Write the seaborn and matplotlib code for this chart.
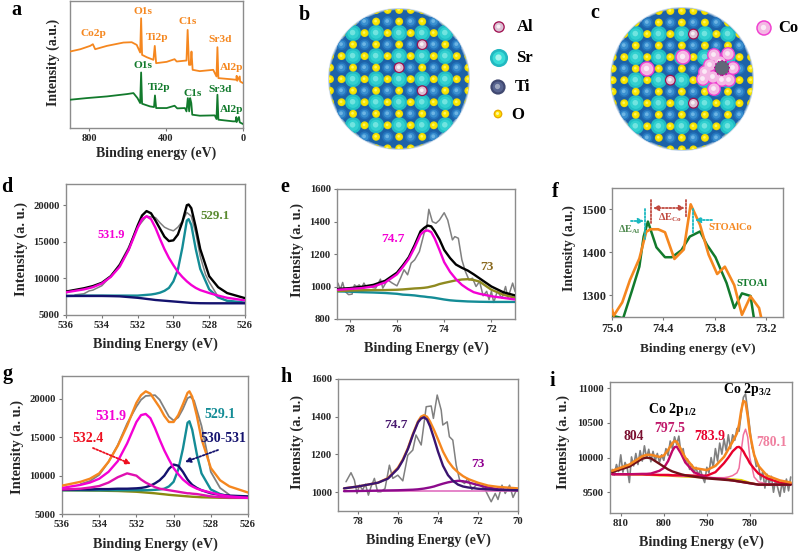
import matplotlib
matplotlib.use("Agg")
import matplotlib.pyplot as plt
from matplotlib.patches import Circle
import seaborn as sns

sns.set_style("ticks")
plt.rcParams["font.family"] = ["Liberation Serif", "DejaVu Serif"]
plt.rcParams["font.weight"] = "bold"
plt.rcParams["axes.labelweight"] = "bold"
plt.rcParams["mathtext.fontset"] = "custom"
plt.rcParams["mathtext.rm"] = "Liberation Serif:bold"
plt.rcParams["mathtext.bf"] = "Liberation Serif:bold"

ORANGE = "#f5871f"
GREEN = "#127a2c"
MAGENTA = "#f400d4"
GRAY = "#808080"
NAVY = "#14126e"
TEAL = "#148c96"

# panel a, survey spectra (arbitrary intensity)
a_orange_x = [900, 846, 795, 781, 769, 708, 622, 579, 553, 535, 530, 525, 501, 466, 459, 452, 397, 356, 345, 294, 288, 281, 273, 268, 262, 225, 155, 138, 133, 128, 69, 35, 33, 30, 17, 15, 0]
a_orange_y = [230, 237, 247, 252, 237, 247, 257, 258, 250, 227, 330, 220, 213, 205, 247, 195, 199, 207, 200, 203, 295, 190, 190, 230, 175, 171, 175, 155, 243, 150, 147, 145, 157, 142, 155, 140, 135]
a_green_x = [900, 812, 708, 604, 570, 549, 535, 530, 525, 484, 463, 458, 452, 397, 356, 342, 302, 294, 287, 280, 275, 269, 264, 225, 147, 138, 133, 128, 52, 38, 35, 33, 21, 17, 0]
a_green_y = [85, 90, 95, 102, 105, 90, 75, 167, 73, 65, 63, 98, 60, 60, 67, 59, 60, 50, 90, 50, 90, 75, 40, 37, 38, 27, 100, 25, 20, 20, 33, 18, 33, 17, 12]

# panel d, O 1s of STOAl
d_x = [536, 535, 534.5, 534, 533.5, 533, 532.5, 532, 531.75, 531.5, 531.25, 531, 530.75, 530.5, 530.25, 530, 529.75, 529.5, 529.25, 529.15, 529, 528.75, 528.5, 528, 527.5, 527, 526]
d_total = [8200, 8650, 8950, 9400, 10300, 11800, 14000, 17200, 18600, 19200, 18900, 17900, 16800, 15700, 15100, 15200, 16000, 17700, 20000, 20100, 19600, 17000, 14000, 10300, 8800, 8000, 7300]
d_531 = [8100, 8500, 8800, 9300, 10200, 11600, 13900, 16900, 18100, 18500, 18100, 16900, 15400, 14000, 12800, 11800, 10900, 10200, 9600, 9400, 9100, 8700, 8400, 8000, 7650, 7350, 7000]
d_529 = [7600, 7650, 7650, 7650, 7650, 7650, 7650, 7650, 7700, 7750, 7800, 7900, 8050, 8300, 8700, 9600, 11200, 14200, 17900, 18100, 17300, 14000, 11300, 8500, 7400, 6950, 6700]
d_base = [7600, 7600, 7600, 7600, 7580, 7550, 7450, 7350, 7280, 7200, 7130, 7050, 7000, 6950, 6900, 6850, 6800, 6750, 6700, 6680, 6650, 6630, 6610, 6600, 6600, 6600, 6600]
d_raw_x = [535.5, 535, 534.7, 534.5, 534, 533.5, 533, 532.5, 532, 531.5, 531, 530.75, 530.5, 530.25, 530, 529.75, 529.5, 529.25, 529, 528.75, 528.5, 528.2, 528, 527.5, 527, 526.5]
d_raw = [7750, 7900, 8300, 8400, 9000, 10300, 12000, 14300, 17000, 18500, 18300, 17600, 17000, 16700, 16500, 17000, 17800, 19000, 18500, 16200, 13000, 10500, 9500, 7500, 6900, 6800]

# panel e, Al 2p of STOAl
e_x = [78.5, 78, 77.5, 77, 76.5, 76, 75.75, 75.5, 75.25, 75, 74.85, 74.7, 74.55, 74.4, 74.2, 74, 73.75, 73.5, 73.25, 73, 72.75, 72.5, 72, 71.5, 71]
e_total = [985, 990, 998, 1010, 1035, 1085, 1130, 1180, 1255, 1340, 1360, 1375, 1370, 1340, 1290, 1225, 1175, 1135, 1115, 1098, 1075, 1050, 1000, 965, 945]
e_747 = [980, 985, 990, 1000, 1025, 1075, 1120, 1170, 1240, 1320, 1340, 1345, 1335, 1295, 1225, 1150, 1090, 1045, 1010, 985, 965, 955, 940, 930, 920]
e_73 = [972, 975, 977, 978, 978, 980, 982, 985, 988, 990, 992, 995, 1000, 1005, 1015, 1022, 1030, 1038, 1043, 1045, 1040, 1030, 980, 950, 930]
e_base = [970, 968, 965, 963, 960, 955, 950, 948, 945, 940, 938, 935, 933, 930, 925, 920, 915, 912, 910, 908, 907, 906, 905, 905, 905]
e_raw_x = [78.5, 78.4, 78.3, 78.2, 78.05, 77.9, 77.8, 77.7, 77.6, 77.5, 77.4, 77.3, 77.1, 76.9, 76.7, 76.6, 76.4, 76.2, 76, 75.85, 75.7, 75.55, 75.4, 75.25, 75.05, 74.85, 74.75, 74.65, 74.5, 74.35, 74.2, 74, 73.85, 73.65, 73.55, 73.4, 73.25, 73.1, 72.95, 72.8, 72.65, 72.5, 72.35, 72.2, 72.1, 72, 71.9, 71.75, 71.55, 71.4, 71.3, 71.1, 71]
e_raw = [1021, 980, 1025, 970, 950, 953, 1010, 1000, 1010, 990, 1021, 996, 996, 990, 1045, 990, 1041, 1021, 1004, 1051, 1103, 1072, 1144, 1164, 1215, 1328, 1358, 1475, 1399, 1389, 1409, 1454, 1409, 1287, 1307, 1297, 1164, 1092, 1041, 1051, 1000, 1031, 943, 970, 919, 970, 902, 970, 929, 1000, 929, 1021, 970]

# panel f, valence comparison
f_stoal_x = [75, 74.87, 74.77, 74.68, 74.63, 74.58, 74.48, 74.38, 74.3, 74.19, 74.09, 73.97, 73.89, 73.79, 73.66, 73.57, 73.48, 73.38, 73.34]
f_stoal = [1253, 1247, 1309, 1367, 1437, 1472, 1412, 1389, 1389, 1405, 1437, 1449, 1418, 1389, 1329, 1271, 1305, 1299, 1247]
f_stoalco_x = [75, 74.98, 74.88, 74.79, 74.68, 74.6, 74.55, 74.46, 74.38, 74.27, 74.16, 74.08, 73.97, 73.87, 73.77, 73.68, 73.57, 73.48, 73.38, 73.28, 73.25]
f_stoalco = [1268, 1253, 1284, 1336, 1386, 1448, 1454, 1454, 1447, 1385, 1407, 1512, 1464, 1395, 1350, 1367, 1324, 1255, 1298, 1271, 1244]

# panel g, O 1s of STOAlCo
g_x = d_x
g_total = [8700, 9200, 9600, 10300, 11800, 13900, 16500, 19500, 20500, 21000, 20700, 19800, 18900, 17800, 17000, 17000, 17900, 19300, 20800, 21000, 20300, 17800, 14800, 11000, 9400, 8600, 7800]
g_531 = [8400, 8800, 9100, 9600, 10500, 11900, 14200, 17000, 17900, 18050, 17500, 16200, 14700, 13300, 12100, 11000, 10200, 9500, 9000, 8800, 8600, 8300, 8100, 7800, 7500, 7300, 7100]
g_532 = [8200, 8300, 8450, 8650, 9100, 9800, 10300, 10000, 9500, 9100, 8800, 8500, 8300, 8200, 8100, 8000, 7900, 7800, 7700, 7700, 7650, 7600, 7500, 7300, 7200, 7150, 7100]
g_530 = [8150, 8200, 8200, 8250, 8250, 8300, 8300, 8350, 8400, 8500, 8700, 9000, 9400, 10000, 10900, 11450, 11300, 10500, 9500, 9200, 8800, 8400, 8100, 7700, 7500, 7400, 7300]
g_529 = [8100, 8100, 8100, 8100, 8100, 8100, 8100, 8100, 8100, 8100, 8120, 8150, 8200, 8300, 8600, 9200, 10800, 13500, 16900, 17100, 16000, 12800, 10300, 8200, 7600, 7300, 7200]
g_base = [8100, 8080, 8060, 8050, 8020, 8000, 7950, 7900, 7850, 7800, 7750, 7700, 7630, 7570, 7500, 7450, 7400, 7350, 7300, 7280, 7250, 7220, 7180, 7150, 7120, 7100, 7100]
g_raw_x = [535, 534.5, 534, 533.5, 533, 532.5, 532, 531.75, 531.5, 531, 530.75, 530.5, 530.25, 530, 529.75, 529.5, 529.25, 529.1, 528.9, 528.5, 528.2, 528, 527.5, 527]
g_raw = [8900, 9300, 10100, 11800, 14000, 16800, 19000, 19900, 20400, 20500, 19900, 18800, 17700, 17200, 17600, 18700, 20100, 20300, 19800, 16500, 13000, 10500, 8400, 7500]

# panel h, Al 2p of STOAlCo
h_x = [78.7, 78, 77.5, 77, 76.5, 76, 75.75, 75.5, 75.25, 75, 74.85, 74.7, 74.55, 74.4, 74.2, 74, 73.75, 73.5, 73.25, 73, 72.75, 72.5, 72, 71.5, 71, 70]
h_total = [1020, 1030, 1040, 1050, 1075, 1130, 1175, 1235, 1310, 1375, 1400, 1408, 1400, 1375, 1330, 1280, 1215, 1165, 1130, 1105, 1085, 1070, 1050, 1035, 1028, 1020]
h_747 = [1020, 1030, 1040, 1050, 1072, 1125, 1170, 1230, 1305, 1370, 1390, 1397, 1385, 1350, 1285, 1215, 1140, 1090, 1060, 1040, 1030, 1025, 1018, 1015, 1012, 1010]
h_73 = [1005, 1006, 1007, 1008, 1009, 1010, 1011, 1012, 1013, 1015, 1017, 1019, 1022, 1025, 1030, 1037, 1045, 1052, 1057, 1060, 1058, 1052, 1038, 1025, 1015, 1010]
h_base = [1007, 1007, 1007, 1007, 1007, 1007, 1007, 1007, 1007, 1007, 1007, 1007, 1007, 1007, 1007, 1007, 1007, 1007, 1007, 1007, 1007, 1007, 1007, 1007, 1007, 1007]
h_raw_x = [78.6, 78.35, 78.18, 78.05, 77.93, 77.77, 77.63, 77.48, 77.35, 77.18, 77.02, 76.85, 76.65, 76.43, 76.26, 76.01, 75.76, 75.51, 75.26, 75.1, 74.84, 74.59, 74.34, 74.23, 74.04, 73.84, 73.76, 73.54, 73.43, 73.26, 73.09, 72.92, 72.67, 72.51, 72.31, 72.01, 71.67, 71.34, 71.14, 71.0, 70.8, 70.64, 70.42, 70.25, 70.04]
h_raw = [1055, 1103, 1064, 993, 1037, 1011, 1042, 984, 1028, 1073, 1002, 1002, 1019, 1143, 1073, 1090, 1060, 1196, 1223, 1303, 1250, 1453, 1457, 1391, 1515, 1435, 1356, 1373, 1294, 1276, 1143, 1064, 1046, 1073, 1014, 1046, 1019, 949, 993, 961, 1037, 993, 1037, 972, 1019]

# panel i, Co 2p
i_x = [812, 808, 805, 804, 803, 801, 800, 799, 798, 797.5, 797, 796, 795, 793, 790, 788, 786, 785, 784, 783, 782.5, 782, 781.5, 781, 780.5, 780, 779, 778, 776, 773, 770.5]
i_total = [9810, 9900, 10020, 10040, 10040, 10010, 10030, 10110, 10210, 10240, 10230, 10120, 10000, 9850, 9820, 9880, 10010, 10120, 10230, 10350, 10480, 10680, 10820, 10800, 10600, 10350, 10040, 9880, 9740, 9670, 9640]
i_804 = [9790, 9870, 9985, 10000, 9990, 9910, 9870, 9830, 9800, 9790, 9780, 9760, 9745, 9725, 9700, 9690, 9680, 9675, 9670, 9660, 9655, 9650, 9645, 9640, 9635, 9630, 9620, 9610, 9610, 9610, 9610]
i_797 = [9760, 9760, 9765, 9765, 9770, 9810, 9850, 9950, 10100, 10150, 10160, 10060, 9930, 9790, 9710, 9700, 9690, 9680, 9670, 9660, 9655, 9650, 9645, 9640, 9635, 9630, 9620, 9610, 9610, 9610, 9610]
i_783 = [9760, 9760, 9760, 9755, 9755, 9750, 9750, 9750, 9745, 9745, 9745, 9745, 9745, 9740, 9740, 9790, 9920, 10000, 10090, 10150, 10155, 10130, 10090, 10030, 9980, 9920, 9840, 9770, 9700, 9640, 9620]
i_780 = [9760, 9760, 9755, 9755, 9750, 9745, 9745, 9740, 9740, 9735, 9735, 9730, 9730, 9725, 9715, 9710, 9710, 9720, 9740, 9780, 9850, 10100, 10330, 10410, 10300, 10000, 9720, 9650, 9620, 9610, 9610]
i_base = [9760, 9755, 9750, 9748, 9745, 9740, 9738, 9735, 9732, 9730, 9728, 9725, 9722, 9717, 9710, 9705, 9700, 9695, 9690, 9685, 9682, 9680, 9670, 9660, 9650, 9640, 9625, 9615, 9610, 9610, 9610]
i_raw_x = [812, 811.5, 811, 810.5, 810, 809.5, 809, 808.5, 808, 807.5,
           807, 806.5, 806, 805.5, 805, 804.5, 804, 803.5, 803, 802.5,
           802, 801.5, 801, 800.5, 800, 799.5, 799, 798.5, 798, 797.5,
           797, 796.5, 796, 795.5, 795, 794.5, 794, 793.5, 793, 792.5,
           792, 791.5, 791, 790.5, 790, 789.5, 789, 788.5, 788, 787.5,
           787, 786.5, 786, 785.5, 785, 784.5, 784, 783.5, 783, 782.5,
           782, 781.5, 781, 780.5, 780, 779.5, 779, 778.5, 778, 777.5,
           777, 776.5, 776, 775.5, 775, 774.5, 774, 773.5, 773, 772.5,
           772, 771.5, 771, 770.5]
i_raw = [9830, 9750, 9900, 9800, 10040, 9790, 9930, 9850, 9640, 10010,
         9880, 10060, 9900, 10100, 9950, 10170, 9990, 10120, 9940, 10090,
         9950, 10060, 9930, 10040, 9960, 10130, 10030, 10240, 10130, 10300,
         10190, 10310, 10060, 10130, 9930, 9980, 9830, 9900, 9780, 9860,
         9740, 9830, 9720, 9640, 9860, 9780, 10000, 9860, 10130, 9950,
         10210, 10050, 10270, 10100, 10330, 10130, 10330, 10250, 10420, 10380,
         10640, 10870, 10920, 10680, 10420, 10150, 10050, 9870, 9900, 9680,
         9800, 9560, 9760, 9620, 9730, 9500, 9680, 9560, 9440, 9650,
         9500, 9690, 9520, 9720]

# panels b and c, atoms of the SrTiO3 (100) slab, row by row
lattice_rows = ["....OOOOO....",
                "..OTOTOTOTO..",
                ".OSOSOSOSOSO.",
                ".TOTOTOTOTOT.",
                "OOSOSOSOSOSOO",
                "OTOTOTOTOTOTO",
                "OOSOSOSOSOSOO",
                "OTOTOTOTOTOTO",
                "OOSOSOSOSOSOO",
                ".TOTOTOTOTOT.",
                ".OSOSOSOSOSO.",
                "..OTOTOTOTO..",
                "....OOOOO...."]
b_al_cols = [8, 6, 8]
b_al_rows = [3, 5, 7]
c_al_cols = [7, 5, 7]
c_al_rows = [2, 6, 8]
co_single_x = [683, 647]
co_single_y = [57, 69]
co_cluster_x = [705, 703, 710, 714, 728, 720, 733, 713, 729, 722, 714]
co_cluster_y = [72, 79, 65, 55, 54, 62, 68, 77, 80, 80, 89]

fig = plt.figure(figsize=(8.03, 5.53), dpi=100)

overlay = fig.add_axes([0, 0, 1, 1], zorder=10)
overlay.set_xlim(0, 803)
overlay.set_ylim(553, 0)
overlay.axis("off")
overlay.patch.set_alpha(0)


def make_panel(left, right, top, bottom, xlim, ylim, xticks, yticks, xlabel, ylabel, xlabel_pos, ylabel_pos, tick_size=7.7, label_size=10.2, ylabel_size=10.4):
    ax = fig.add_axes([left / 803, 1 - bottom / 553, (right - left) / 803, (bottom - top) / 553])
    ax.set_xlim(xlim)
    ax.set_ylim(ylim)
    ax.set_xticks(xticks)
    ax.set_yticks(yticks)
    ax.tick_params(labelsize=tick_size, length=2.5, width=0.8, color="#777777", pad=2)
    ax.set_xlabel(xlabel, fontsize=label_size, va="center")
    ax.set_ylabel(ylabel, fontsize=ylabel_size, va="center")
    ax.xaxis.set_label_coords(xlabel_pos[0], xlabel_pos[1], transform=overlay.transData)
    ax.yaxis.set_label_coords(ylabel_pos[0], ylabel_pos[1], transform=overlay.transData)
    for side in ax.spines:
        ax.spines[side].set_color("#8c8c8c")
        ax.spines[side].set_linewidth(1.0)
    return ax


def curve(ax, xs, ys, color, lw=1.7, z=3):
    sns.lineplot(x=xs, y=ys, color=color, linewidth=lw, estimator=None, sort=False, errorbar=None, ax=ax, zorder=z)


def label(px, py, text, color="black", size=9.6):
    overlay.text(px, py, text, color=color, fontsize=size, fontweight="bold", ha="center", va="center")


def dotted_arrow(x0, y0, x1, y1, color, style="-|>"):
    overlay.annotate("", xy=(x1, y1), xytext=(x0, y0), arrowprops=dict(arrowstyle=style, color=color, linestyle=(0, (1, 1)), lw=1.3, shrinkA=0, shrinkB=0, mutation_scale=8))


def sphere(xs, ys, size, rim, mid, shine, core=0.5):
    sns.scatterplot(x=xs, y=ys, s=size, color=rim, edgecolor="none", ax=overlay, zorder=6)
    sns.scatterplot(x=xs, y=ys, s=size * core, color=mid, edgecolor="none", ax=overlay, zorder=6)
    sns.scatterplot(x=[v - 0.5 for v in xs], y=[v - 0.5 for v in ys], s=size * 0.12, color=shine, edgecolor="none", ax=overlay, zorder=6)


def lattice(cx, cy, radius, x0, y0, al_cols, al_rows):
    step = 11.53
    for r, alpha in [(radius + 2, 0.25), (radius + 1, 0.5), (radius, 1.0)]:
        overlay.add_patch(Circle((cx, cy), r, color="#1c62a8", alpha=alpha, lw=0, zorder=1))
    clip = Circle((cx, cy), radius + 1, transform=overlay.transData)
    groups = {"T": ([], []), "S": ([], []), "O": ([], [])}
    for r, row in enumerate(lattice_rows):
        for c, kind in enumerate(row):
            if kind == ".":
                continue
            groups[kind][0].append(x0 + c * step)
            groups[kind][1].append(y0 + r * step)
    styles = [("T", 62, "#2474bc", "#3a90d0", "#6cb4e4"), ("S", 135, "#20bcc4", "#32d0d0", "#70e4e0"), ("O", 32, "#f0d800", "#f8e800", "#fff460")]
    before = len(overlay.collections)
    for kind, size, rim, mid, shine in styles:
        sphere(groups[kind][0], groups[kind][1], size, rim, mid, shine)
    for coll in overlay.collections[before:]:
        coll.set_clip_path(clip)
    al_x = [x0 + c * step for c in al_cols]
    al_y = [y0 + r * step for r in al_rows]
    sphere(al_x, al_y, 62, "#a01050", "#dcc0d4", "#f8f0f4", 0.6)


# panel a
ax = make_panel(70, 243, 1, 128, (900, 0), (0, 382), [800, 400, 0], [], "Binding energy (eV)", "Intensity (a.u.)", (156, 153), (53, 62), 7.5, 10, 10)
curve(ax, a_orange_x, a_orange_y, ORANGE, 1.3)
curve(ax, a_green_x, a_green_y, GREEN, 1.3)
for px, py, text in [(93, 33, "Co2p"), (143, 11, "O1s"), (157, 38, "Ti2p"), (188, 22, "C1s"), (220, 39, "Sr3d"), (232, 67, "Al2p")]:
    label(px, py, text, ORANGE, 8.2)
for px, py, text in [(143, 66, "O1s"), (159, 87, "Ti2p"), (193, 93, "C1s"), (220, 89, "Sr3d"), (232, 110, "Al2p")]:
    label(px, py, text, GREEN, 8.2)

# panels b and c
lattice(399, 79, 69, 330, 10, b_al_cols, b_al_rows)
lattice(682, 79, 70, 612.7, 11, c_al_cols, c_al_rows)
sphere([499], [27], 70, "#a01050", "#dcc0d4", "#f8f0f4", 0.6)
sphere([499], [58], 170, "#22b8c0", "#38dcd8", "#a8f4ee")
sphere([498], [87], 120, "#404870", "#586490", "#a0a8c0")
sphere([498], [114], 40, "#e8a800", "#ffe000", "#fff8a0")
for px, py, text in [(525, 27, "Al"), (524, 58, "Sr"), (523, 87, "Ti"), (518, 115, "O")]:
    label(px, py, text, "black", 12)
sphere(co_single_x, co_single_y, 125, "#f040d0", "#f4b8e4", "#fbeaf6", 0.65)
sphere(co_cluster_x, co_cluster_y, 100, "#f040d0", "#f4b8e4", "#fbeaf6", 0.65)
sns.scatterplot(x=[722], y=[68], s=110, color="#606878", edgecolor="#c00090", linewidth=1, linestyle=":", ax=overlay, zorder=7)
sphere([764], [28], 125, "#f040d0", "#f4b8e4", "#fbeaf6", 0.65)
label(788, 28, "Co", "black", 12)

# panel d
ax = make_panel(66, 245, 184, 315, (536, 526), (5000, 22900), [536, 534, 532, 530, 528, 526], [5000, 10000, 15000, 20000], "Binding Energy (eV)", "Intensity (a. u.)", (155, 344), (21, 249))
curve(ax, d_raw_x, d_raw, GRAY, 1.1, 2)
curve(ax, d_x, d_total, "black")
curve(ax, d_x, d_529, TEAL)
curve(ax, d_x, d_531, MAGENTA)
curve(ax, d_x, d_base, NAVY)
label(111, 235, "531.9", MAGENTA, 8.8)
label(215, 216, "529.1", "#5a8a30", 9.4)

# panel e
ax = make_panel(337, 515, 189, 319, (78.54, 71), (800, 1600), [78, 76, 74, 72], [800, 1000, 1200, 1400, 1600], "Binding Energy (eV)", "Intensity (a. u.)", (426, 348), (297, 250))
curve(ax, e_raw_x, e_raw, GRAY, 1.1, 2)
curve(ax, e_x, e_base, TEAL)
curve(ax, e_x, e_73, "#8f8a20")
curve(ax, e_x, e_total, "black")
curve(ax, e_x, e_747, MAGENTA)
label(393, 239, "74.7", MAGENTA, 9.6)
label(487, 267, "73", "#8a6a20", 9.6)

# panel f
ax = make_panel(612, 783, 188, 317, (75, 73), (1250, 1550), [75, 74.4, 73.8, 73.2], [1300, 1400, 1500], "Binding energy (eV)", "Intensity (a.u.)", (698, 349), (569, 248), 8.9, 9.6, 9.8)
ax.set_xticklabels(["75.0", "74.4", "73.8", "73.2"])
curve(ax, f_stoal_x, f_stoal, GREEN, 1.8)
curve(ax, f_stoalco_x, f_stoalco, ORANGE, 1.9)
dotted_arrow(645, 209, 645, 239, "#18b8c0", "-")
dotted_arrow(693, 209, 693, 233, "#18b8c0", "-")
dotted_arrow(651, 200, 651, 223, "#c04a40", "-")
dotted_arrow(686, 200, 686, 218, "#c04a40", "-")
dotted_arrow(653, 208, 685, 208, "#c04a40", "<|-|>")
dotted_arrow(631, 221, 644, 221, "#18b8c0")
dotted_arrow(712, 220, 695, 220, "#18b8c0")
label(629, 230, r"$\Delta$E$_{\mathrm{Al}}$", "#4f8a4f", 7.5)
label(670, 218, r"$\Delta$E$_{\mathrm{Co}}$", "#c04a40", 7.5)
label(730, 227, "STOAlCo", ORANGE, 7.5)
label(752, 283, "STOAl", GREEN, 7.5)

# panel g
ax = make_panel(62, 248, 376, 514, (536, 526), (5000, 23000), [536, 534, 532, 530, 528, 526], [5000, 10000, 15000, 20000], "Binding Energy (eV)", "Intensity (a. u.)", (155, 544), (17, 447))
curve(ax, g_raw_x, g_raw, GRAY, 1.3, 2)
curve(ax, g_x, g_base, "#8a8a10")
curve(ax, g_x, g_529, TEAL)
curve(ax, g_x, g_530, NAVY)
curve(ax, g_x, g_532, "#e010b0")
curve(ax, g_x, g_531, MAGENTA)
curve(ax, g_x, g_total, ORANGE)
label(111, 416, "531.9", MAGENTA, 10)
label(88, 439, "532.4", "#ee1020", 10)
label(220, 415, "529.1", TEAL, 10)
label(223, 439, "530-531", NAVY, 10)
dotted_arrow(93, 448, 131, 464, "#ee1020")
dotted_arrow(218, 450, 185, 462, NAVY)

# panel h
ax = make_panel(338, 518, 379, 511, (79, 70), (900, 1600), [78, 76, 74, 72, 70], [1000, 1200, 1400, 1600], "Binding Energy (eV)", "Intensity (a. u.)", (428, 540), (297, 442))
curve(ax, h_raw_x, h_raw, GRAY, 1.1, 2)
curve(ax, h_x, h_base, "#e070c0", 1.2)
curve(ax, h_x, h_73, "#8c0a8c")
curve(ax, h_x, h_total, ORANGE)
curve(ax, h_x, h_747, "#3a1470")
label(396, 425, "74.7", "#4a1a70", 9.6)
label(478, 464, "73", "#900090", 9.6)

# panel i
ax = make_panel(610, 792, 382, 513, (812.5, 770.2), (9200, 11092), [810, 800, 790, 780], [9500, 10000, 10500, 11000], "Binding Energy (eV)", "Intensity (a. u.)", (701, 542), (563, 442))
curve(ax, i_raw_x, i_raw, GRAY, 1.2, 2)
curve(ax, i_x, i_base, "#e0d000", 1.2)
curve(ax, i_x, i_780, "#f070a0", 1.1)
curve(ax, i_x, i_783, "#e8002c")
curve(ax, i_x, i_797, "#c00868")
curve(ax, i_x, i_804, "#701018")
curve(ax, i_x, i_total, ORANGE, 1.8)
label(748, 389, r"Co 2p$_{3/2}$", "black", 10)
label(673, 409, r"Co 2p$_{1/2}$", "black", 10)
label(634, 437, "804", "#7a1030", 9.8)
label(670, 428, "797.5", "#c0186a", 9.8)
label(710, 436, "783.9", "#e8002c", 9.8)
label(772, 442, "780.1", "#f080a0", 9.8)

# panel letters
for px, py, text in [(16, 10, "a"), (304, 15, "b"), (595, 13, "c"), (7, 187, "d"), (285, 187, "e"), (555, 192, "f"), (8, 374, "g"), (286, 377, "h"), (552, 381, "i")]:
    label(px, py, text, "black", 14.5)

overlay.set_xlim(0, 803)
overlay.set_ylim(553, 0)
fig.savefig("out.png", dpi=100)
